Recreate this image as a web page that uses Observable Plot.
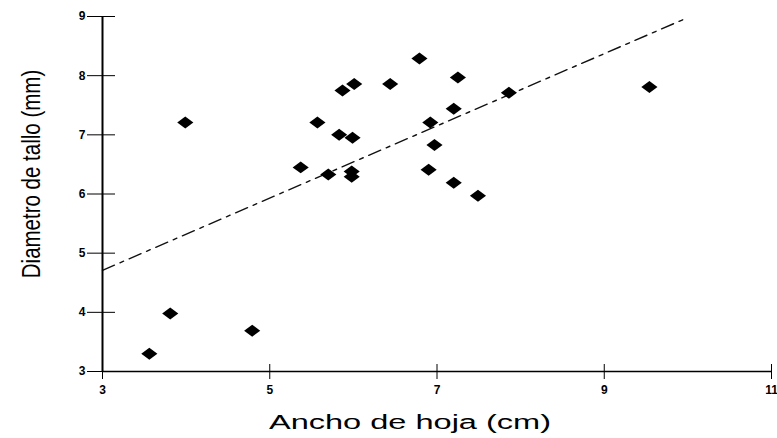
<!DOCTYPE html>
<html><head><meta charset="utf-8">
<script src="https://cdn.jsdelivr.net/npm/d3@7"></script>
<script src="https://cdn.jsdelivr.net/npm/@observablehq/plot@0.6"></script>
<style>
body{margin:0;background:#fff}
#chart svg{display:block}
</style>
</head><body><div id="chart"></div>
<script>
// Data
const anchoHoja = [3.56, 3.81, 3.99, 4.79, 5.37, 5.57, 5.70, 5.83, 5.87, 6.01, 5.99, 5.98, 5.98, 6.44, 6.79, 6.92, 6.97, 6.90, 7.20, 7.49, 7.20, 7.25, 7.86, 9.54];
const diametroTallo = [3.30, 3.98, 7.21, 3.69, 6.45, 7.21, 6.33, 7.00, 7.75, 7.86, 6.95, 6.38, 6.29, 7.86, 8.29, 7.21, 6.83, 6.41, 6.19, 5.97, 7.44, 7.97, 7.71, 7.81];
const fitX = [3, 9.98];
const fitY = [4.71, 8.97];
const xTicks = [3, 5, 7, 9, 11];
const yTicks = [3, 4, 5, 6, 7, 8, 9];
const xTitle = "Ancho de hoja (cm)";
const yTitle = "Diametro de tallo (mm)";

const points = anchoHoja.map((x, i) => ({x, y: diametroTallo[i]}));
const fit = fitX.map((x, i) => ({x, y: fitY[i]}));

const wideDiamond = {
  draw(ctx, size) {
    const s = Math.sqrt(size);
    const w = s * 0.70, h = s * 0.52;
    ctx.moveTo(0, -h); ctx.lineTo(w, 0); ctx.lineTo(0, h); ctx.lineTo(-w, 0); ctx.closePath();
  }
};

const tickFont = {fontFamily: "Liberation Sans, Arial, sans-serif", fontSize: 12, fontWeight: "bold", tickFormat: d => String(d)};

const chart = Plot.plot({
  width: 777, height: 438,
  marginLeft: 102, marginRight: 6, marginTop: 16, marginBottom: 67,
  x: {domain: [3, 11]},
  y: {domain: [3, 9]},
  style: {background: "#fff", color: "#000", fontFamily: "Liberation Sans, Arial, sans-serif"},
  marks: [
    Plot.line(fit, {x: "x", y: "y", stroke: "#111", strokeWidth: 1.4, strokeDasharray: "13,6,4,6"}),
    Plot.ruleX([3], {stroke: "#000", strokeWidth: 2}),
    Plot.ruleY([3], {stroke: "#000", strokeWidth: 1.5}),
    Plot.axisY(yTicks, {tickSize: 15, tickPadding: 2, label: null, stroke: "#000", strokeOpacity: 1, ...tickFont}),
    Plot.axisY(yTicks, {tickSize: 13, dx: 13, text: null, label: null, stroke: "#000", strokeOpacity: 1}),
    Plot.axisX(xTicks, {tickSize: 8, tickPadding: 6, label: null, stroke: "#000", strokeOpacity: 1, ...tickFont}),
    Plot.axisX(xTicks, {tickSize: 7, dy: -7, text: null, label: null, stroke: "#000", strokeOpacity: 1}),
    Plot.dot(points, {x: "x", y: "y", r: 6.5, symbol: wideDiamond, fill: "#000", stroke: "none"}),
    Plot.text([xTitle], {text: d => d, frameAnchor: "bottom", dx: -27, dy: 57, lineAnchor: "middle", textAnchor: "middle",
      fontSize: 21, fontFamily: "Liberation Sans, Arial, sans-serif", fill: "#000", className: "xtitle"}),
    Plot.text([yTitle], {text: d => d, frameAnchor: "left", dx: -63, dy: -20, rotate: -90, lineAnchor: "middle", textAnchor: "middle",
      fontSize: 25, fontFamily: "Liberation Sans, Arial, sans-serif", fill: "#000", className: "ytitle"})
  ]
});

function stretch(sel, sx) {
  sel.each(function () {
    const t = d3.select(this);
    const x = +t.attr("x") || 0, y = +t.attr("y") || 0;
    const tr = t.attr("transform") || "";
    t.attr("x", null).attr("y", null)
     .attr("transform", `${tr} translate(${x},${y}) scale(${sx},1)`);
  });
}
stretch(d3.select(chart).selectAll(".xtitle text"), 1.55);
stretch(d3.select(chart).selectAll(".ytitle text"), 0.82);
document.getElementById("chart").appendChild(chart);
</script>
</body></html>
